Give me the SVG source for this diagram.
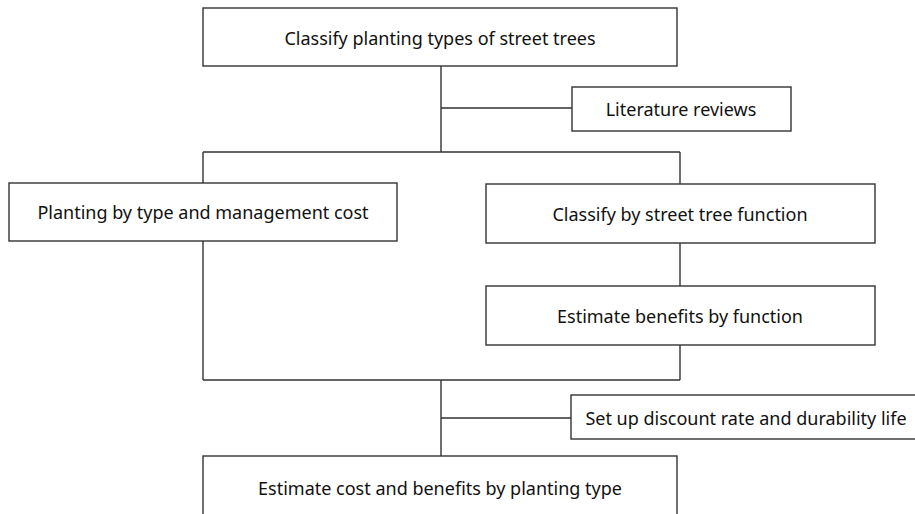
<svg xmlns="http://www.w3.org/2000/svg" width="915" height="514" viewBox="0 0 915 514">
<style>
.box{fill:#fff;stroke:#333;stroke-width:1.4}
.ln{fill:none;stroke:#333;stroke-width:1.4}
text{font-family:"Noto Sans","Open Sans","Liberation Sans",sans-serif;font-size:18px;fill:#111;text-anchor:middle;dominant-baseline:central}
</style>
<rect width="915" height="514" fill="#fff"/>
<g id="connectors">
<path class="ln" d="M441,66 V152 M441,108 H572 M203,152 H680 M203,152 V183 M680,152 V184 M203,241 V380 M680,243 V286 M680,345 V380 M203,380 H680 M441,380 V456 M441,418 H571"/>
</g>
<g id="n1"><rect class="box" x="203" y="8" width="474" height="58"/><text x="440" y="38">Classify planting types of street trees</text></g>
<g id="n2"><rect class="box" x="572" y="87" width="219" height="44"/><text x="681" y="109">Literature reviews</text></g>
<g id="n3"><rect class="box" x="9" y="183" width="388" height="58"/><text x="203" y="212">Planting by type and management cost</text></g>
<g id="n4"><rect class="box" x="486" y="184" width="389" height="59"/><text x="680" y="214">Classify by street tree function</text></g>
<g id="n5"><rect class="box" x="486" y="286" width="389" height="59"/><text x="680" y="316">Estimate benefits by function</text></g>
<g id="n6"><rect class="box" x="571" y="395" width="360" height="44"/><text x="746" y="418">Set up discount rate and durability life</text></g>
<g id="n7"><rect class="box" x="203" y="456" width="474" height="80"/><text x="440" y="488">Estimate cost and benefits by planting type</text></g>
</svg>
